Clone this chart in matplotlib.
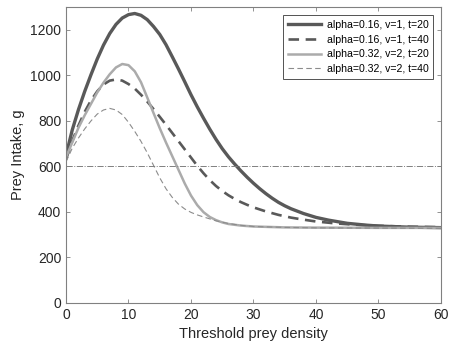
import matplotlib
matplotlib.use("Agg")
import matplotlib.pyplot as plt

plt.rcParams['font.family'] = ['Liberation Sans', 'DejaVu Sans']

# alpha=0.16, v=1, t=20
x1 = [0, 1, 2, 3, 4, 5, 6, 7, 8, 9, 10, 11, 12, 13, 14, 15, 16, 17, 18, 19, 20,
      21, 22, 23, 24, 25, 26, 27, 28, 29, 30, 31, 32, 33, 34, 35, 36, 38, 40, 42,
      45, 48, 50, 55, 60]
y1 = [648, 760, 850, 930, 1003, 1072, 1133, 1184, 1224, 1252, 1267, 1272, 1264,
      1245, 1215, 1180, 1135, 1082, 1028, 972, 915, 862, 812, 764, 719, 678, 642,
      610, 580, 552, 526, 502, 480, 460, 442, 427, 414, 393, 376, 364, 350, 342,
      338, 333, 331]

# alpha=0.16, v=1, t=40
x2 = [0, 1, 2, 3, 4, 5, 6, 7, 8, 9, 10, 11, 12, 13, 14, 15, 16, 17, 18, 19, 20,
      21, 22, 23, 24, 25, 26, 27, 28, 29, 30, 32, 34, 36, 38, 40, 43, 46, 50, 55, 60]
y2 = [630, 712, 780, 840, 890, 930, 960, 977, 982, 977, 962, 942, 915, 885, 852,
      818, 783, 747, 711, 675, 639, 603, 570, 540, 514, 492, 473, 457, 443, 431,
      420, 402, 387, 375, 366, 358, 350, 344, 339, 335, 333]

# alpha=0.32, v=2, t=20
x3 = [0, 1, 2, 3, 4, 5, 6, 7, 8, 9, 10, 11, 12, 13, 14, 15, 16, 17, 18, 19, 20,
      21, 22, 23, 24, 25, 26, 28, 30, 35, 40, 50, 60]
y3 = [640, 705, 770, 825, 875, 925, 968, 1005, 1035, 1050, 1045, 1018, 970, 903,
      835, 768, 705, 645, 585, 525, 472, 430, 399, 378, 364, 354, 347, 340, 336,
      332, 331, 330, 330]

# alpha=0.32, v=2, t=40
x4 = [0, 1, 2, 3, 4, 5, 6, 7, 8, 9, 10, 11, 12, 13, 14, 15, 16, 17, 18, 19, 20,
      21, 22, 24, 26, 28, 30, 35, 40, 50, 60]
y4 = [620, 680, 725, 765, 800, 830, 848, 855, 848, 828, 794, 754, 710, 660, 605,
      550, 502, 464, 434, 413, 398, 387, 378, 361, 349, 341, 336, 332, 330, 329, 328]

labels = ['alpha=0.16, v=1, t=20', 'alpha=0.16, v=1, t=40',
          'alpha=0.32, v=2, t=20', 'alpha=0.32, v=2, t=40']
ref_level = 600

fig = plt.figure(figsize=(4.69, 3.56), dpi=100)
ax = fig.add_axes([0.1407, 0.149, 0.7996, 0.831])

ax.plot(x1, y1, color='#595959', lw=2.4, label=labels[0])
ax.plot(x2, y2, color='#595959', lw=1.9, ls=(0, (4, 2.5)), label=labels[1])
ax.plot(x3, y3, color='#ababab', lw=1.8, label=labels[2])
ax.plot(x4, y4, color='#8c8c8c', lw=0.8, ls=(0, (5, 3)), label=labels[3])
ax.axhline(ref_level, color='#808080', lw=0.7, ls='-.')

ax.set_xlim(0, 60)
ax.set_ylim(0, 1300)
ax.set_xticks(range(0, 61, 10))
ax.set_yticks(range(0, 1201, 200))
ax.set_xlabel('Threshold prey density', fontsize=10.5, color='#262626')
ax.set_ylabel('Prey Intake, g', fontsize=10.5, color='#262626')

ax.tick_params(direction='in', top=True, right=True, length=3, width=0.6,
               colors='#808080', labelcolor='#262626', labelsize=10)
for s in ax.spines.values():
    s.set_color('#808080')
    s.set_linewidth(0.8)

leg = ax.legend(loc='upper right', fontsize=7.6, frameon=True, fancybox=False,
                borderpad=0.45, labelspacing=0.45, handlelength=3.2,
                handletextpad=0.5, borderaxespad=0.75)
leg.get_frame().set_edgecolor('#262626')
leg.get_frame().set_linewidth(0.7)

fig.savefig('out.png', dpi=100)
